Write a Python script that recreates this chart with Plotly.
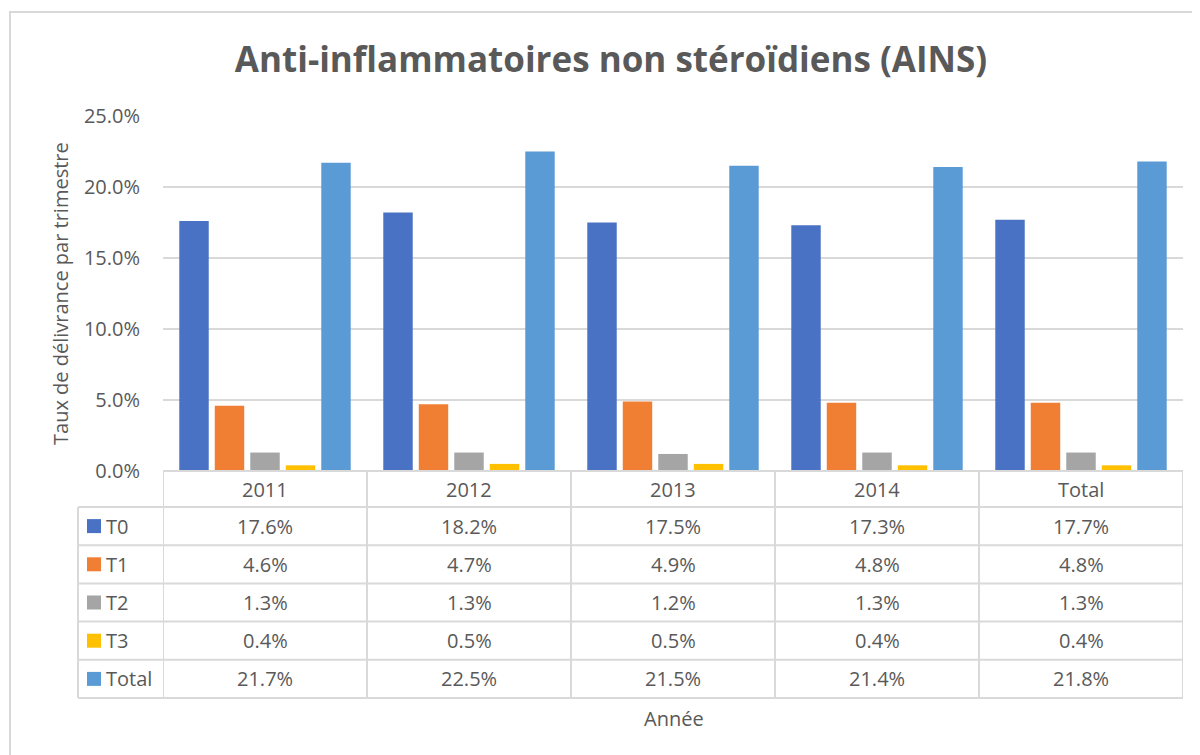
import plotly.graph_objects as go

# --- DONNEES ---
annees = ['2011', '2012', '2013', '2014', 'Total']
series = ['T0', 'T1', 'T2', 'T3', 'Total']
t0 = [17.6, 18.2, 17.5, 17.3, 17.7]
t1 = [4.6, 4.7, 4.9, 4.8, 4.8]
t2 = [1.3, 1.3, 1.2, 1.3, 1.3]
t3 = [0.4, 0.5, 0.5, 0.4, 0.4]
total = [21.7, 22.5, 21.5, 21.4, 21.8]
valeurs = [t0, t1, t2, t3, total]
couleurs = ['#4A72C4', '#F07F34', '#A5A5A5', '#FFC000', '#5B9BD5']

# la page ajoute une marge de 8 px : on la compense
OFF = 8
W, H = 1200 - OFF, 755 - OFF
L, R, T, B = 163 - OFF, 17, 116 - OFF, 284
pw, ph = W - L - R, H - T - B
txt = '#595959'
grille = '#D9D9D9'
police = 'Open Sans'
fs = 20


def py(p):
    # pixel vertical (page) -> coordonnée papier
    return (H - B - (p - OFF)) / ph


def px_(p):
    return (p - OFF - L) / pw


fig = go.Figure()
for nom, vals, c in zip(series, valeurs, couleurs):
    fig.add_trace(go.Bar(
        x=annees, y=vals, name=nom,
        marker=dict(color=c, line=dict(width=0)),
        showlegend=False
    ))

shapes = []
annotations = []

# lignes du tableau
y_hdr = 471
bords = [507, 545.2, 583.4, 621.6, 659.8, 698]
shapes.append(dict(type='line', xref='x', yref='paper', x0=-0.5, x1=len(annees) - 0.5,
                   y0=py(y_hdr), y1=py(y_hdr), line=dict(color=grille, width=2)))
for yl in bords:
    shapes.append(dict(type='line', xref='paper', yref='paper', x0=px_(78), x1=1,
                       y0=py(yl), y1=py(yl), line=dict(color=grille, width=2)))
for i in range(len(annees) + 1):
    shapes.append(dict(type='line', xref='x', yref='paper', x0=i - 0.5, x1=i - 0.5,
                       y0=py(y_hdr), y1=py(698), line=dict(color=grille, width=2)))
shapes.append(dict(type='line', xref='paper', yref='paper', x0=px_(78), x1=px_(78),
                   y0=py(507), y1=py(698), line=dict(color=grille, width=2)))

# en-têtes des colonnes
for i, a in enumerate(annees):
    annotations.append(dict(x=i, y=py((y_hdr + 507) / 2), xref='x', yref='paper',
                            text=a, showarrow=False, yanchor='middle',
                            font=dict(size=fs, color=txt, family=police)))

# lignes de valeurs + clés de légende
for j, (nom, vals, c) in enumerate(zip(series, valeurs, couleurs)):
    yc = (bords[j] + bords[j + 1]) / 2
    shapes.append(dict(type='rect', xref='paper', yref='paper',
                       x0=px_(87), x1=px_(101), y0=py(yc - 7), y1=py(yc + 7),
                       fillcolor=c, line=dict(width=0)))
    annotations.append(dict(x=px_(104), y=py(yc), xref='paper', yref='paper',
                            text=nom, showarrow=False, xanchor='left', yanchor='middle',
                            font=dict(size=fs, color=txt, family=police)))
    for i, v in enumerate(vals):
        annotations.append(dict(x=i, y=py(yc), xref='x', yref='paper',
                                text=f'{v:.1f}%', showarrow=False, yanchor='middle',
                                font=dict(size=fs, color=txt, family=police)))

# titres des axes
annotations.append(dict(x=px_(674), y=py(718), xref='paper', yref='paper', text='Année',
                        showarrow=False, yanchor='middle',
                        font=dict(size=fs, color=txt, family=police)))
annotations.append(dict(x=px_(60), y=py(294), xref='paper', yref='paper',
                        text='Taux de délivrance par trimestre', textangle=-90,
                        showarrow=False, xanchor='center', yanchor='middle',
                        font=dict(size=fs, color=txt, family=police)))

# cadre du graphique
shapes.append(dict(type='rect', xref='paper', yref='paper',
                   x0=px_(10), x1=px_(1210), y0=py(12), y1=py(765),
                   line=dict(color=grille, width=2), layer='below'))

fig.update_layout(
    width=W, height=H,
    margin=dict(l=L, r=R, t=T, b=B),
    paper_bgcolor='white', plot_bgcolor='white',
    title=dict(text='<b>Anti-inflammatoires non stéroïdiens (AINS)</b>',
               x=(611 - OFF) / W, xanchor='center', y=1 - (60 - OFF) / H, yanchor='middle',
               font=dict(size=35, color=txt, family=police)),
    barmode='group', bargap=0.13, bargroupgap=0.17,
    xaxis=dict(type='category', showticklabels=False, showgrid=False,
               showline=False, ticks='', range=[-0.5, 4.5]),
    yaxis=dict(range=[0, 25], dtick=5, ticksuffix='%', tickformat='.1f',
               showgrid=True, gridcolor=grille, gridwidth=2, zeroline=False,
               ticklabelstandoff=22,
               tickfont=dict(size=fs, color=txt, family=police)),
    shapes=shapes, annotations=annotations,
)

fig.write_html('out.html')
